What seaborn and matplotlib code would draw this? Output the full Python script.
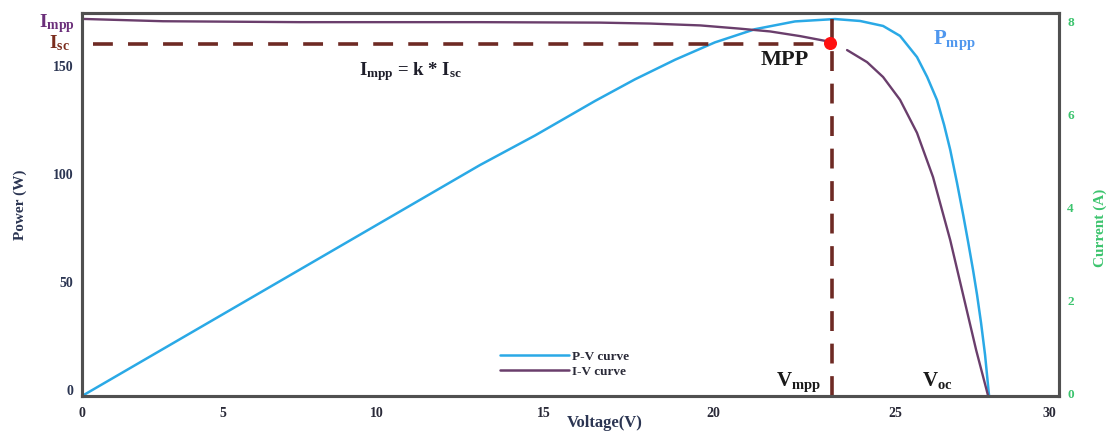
import numpy as np
import matplotlib
matplotlib.use("Agg")
import matplotlib.pyplot as plt
import matplotlib.transforms as mtransforms
from matplotlib.lines import Line2D
import seaborn as sns

# ---------------- data ----------------
pv_voltage = [0, 13.08, 14.73, 16.51, 17.69, 18.88, 20.05, 21.15, 22.25, 23.35,
              24.04, 24.67, 25.16, 25.71, 26.04, 26.36, 26.59, 26.79, 27.01,
              27.21, 27.37, 27.53, 27.66, 27.79, 27.92, 28.05]
pv_power = [0, 106.9, 120.6, 136.6, 146.6, 155.7, 163.7, 169.8, 173.4, 174.5,
            173.6, 171.3, 166.7, 156.9, 147.7, 137.0, 125.5, 113.9, 98.6,
            83.8, 71.3, 58.3, 46.8, 33.8, 19.0, 0]

iv_voltage_a = [0, 2.87, 7.5, 13.08, 16.66, 18.14, 19.62, 20.74, 21.57, 22.39, 23.13]
iv_current_a = [8.11, 8.06, 8.04, 8.04, 8.03, 8.01, 7.97, 7.90, 7.84, 7.74, 7.63]
iv_voltage_b = [23.68, 24.23, 24.67, 25.16, 25.71, 26.23, 26.79, 27.21, 27.63, 28.02]
iv_current_b = [7.44, 7.18, 6.86, 6.37, 5.66, 4.71, 3.35, 2.17, 0.99, 0]

mpp_voltage = 23.2
mpp_current = 7.6
vmpp_line = 23.27
isc_level = 7.57
dash_start = 0.39
dash_top = 8.1

x_ticks = [0, 5, 10, 15, 20, 25, 30]
power_ticks = [0, 50, 100, 150]
current_ticks = [0, 2, 4, 6, 8]

# axis geometry of the (non-uniform) voltage axis in the reference
x_knots = [0, 5, 10, 15, 20, 25, 30, 35]
x_knot_px = [82, 223, 377, 544, 713, 895, 1049, 1203]

# ---------------- style ----------------
sns.set_theme(style="white")
plt.rcParams["font.family"] = ["Liberation Serif", "DejaVu Serif"]
plt.rcParams["font.weight"] = "bold"
plt.rcParams["mathtext.fontset"] = "custom"
plt.rcParams["mathtext.rm"] = "Liberation Serif:bold"
plt.rcParams["mathtext.bf"] = "Liberation Serif:bold"
plt.rcParams["mathtext.it"] = "Liberation Serif:bold"

BLUE = "#2aa9e6"
PURPLE = "#6a3e6c"
DASH = "#6e2a24"
GREEN = "#3cc46e"
NAVY = "#2b3552"
SPINE = "#505050"

fig = plt.figure(figsize=(11.11, 4.32), dpi=100)
ax = fig.add_axes([82 / 1111, 1 - 396 / 432, 977 / 1111, 383 / 432])
ax2 = ax.twinx()

sns.lineplot(x=pv_voltage, y=pv_power, ax=ax, color=BLUE, lw=1.8,
             sort=False, estimator=None)
sns.lineplot(x=iv_voltage_a, y=iv_current_a, ax=ax2, color=PURPLE, lw=1.7,
             sort=False, estimator=None)
sns.lineplot(x=iv_voltage_b, y=iv_current_b, ax=ax2, color=PURPLE, lw=1.7,
             sort=False, estimator=None)

# MPP construction lines
ax2.hlines(isc_level, dash_start, mpp_voltage, colors=DASH, lw=2.6,
           linestyles=(0, (5.5, 4.2)))
ax2.vlines(vmpp_line, 0, dash_top, colors=DASH, lw=2.6,
           linestyles=(0, (5.5, 3.5)))
ax2.scatter([mpp_voltage], [mpp_current], s=70, color="#ff1010", zorder=5)

# scales
fwd = lambda v: np.interp(v, x_knots, x_knot_px)
inv = lambda p: np.interp(p, x_knot_px, x_knots)
for a in (ax, ax2):
    a.set_xscale("function", functions=(fwd, inv))
ax.set_xlim(0, 30.32)
ax.set_ylim(0, 177.3)
ax2.set_ylim(0, 8.237)

ax.set_xticks(x_ticks)
ax.set_xticklabels([str(t) for t in x_ticks], fontsize=10, fontweight="bold",
                   color="#2a2a38")
ax.set_yticks(power_ticks)
ax.set_yticklabels([str(t) for t in power_ticks], fontsize=10, fontweight="bold",
                   color=NAVY)
ax2.set_yticks(current_ticks)
ax2.set_yticklabels([str(t) for t in current_ticks], fontsize=9.5,
                    fontweight="bold", color=GREEN)
ax.tick_params(axis="both", length=0, pad=6)
ax2.tick_params(axis="y", length=0, pad=6)
ax.tick_params(axis="x", pad=8)

up6 = mtransforms.ScaledTranslation(0, 6 / 100, fig.dpi_scale_trans)
up4 = mtransforms.ScaledTranslation(0, 3 / 100, fig.dpi_scale_trans)
for lab in ax.get_yticklabels():
    lab.set_transform(lab.get_transform() + up6)
for lab in ax2.get_yticklabels():
    lab.set_transform(lab.get_transform() + up4)

for a in (ax, ax2):
    for s in a.spines.values():
        s.set_color(SPINE)
        s.set_linewidth(2.2)

ax.set_ylabel("Power (W)", fontsize=11, fontweight="bold", color=NAVY)
ax.yaxis.set_label_coords(-0.056, 0.5)
ax2.set_ylabel("Current (A)", fontsize=11, fontweight="bold", color=GREEN,
               rotation=90)
ax2.yaxis.set_label_coords(1.035, 0.44)
ax.set_xlabel("Voltage(V)", fontsize=12, fontweight="bold", color=NAVY)
ax.xaxis.set_label_coords(0.535, -0.05)

# left-side labels for the current levels
blend = mtransforms.blended_transform_factory(ax2.transAxes, ax2.transData)
ax2.text(-0.007, 8.02, r"$\mathbf{I_{mpp}}$", transform=blend, ha="right",
         va="center", fontsize=14, color="#6b2f7a", clip_on=False)
ax2.text(-0.012, 7.59, r"$\mathbf{I_{sc}}$", transform=blend, ha="right",
         va="center", fontsize=14, color="#7b2d1e", clip_on=False)

# annotations
ax2.text(11.0, 6.97, r"$\mathbf{I_{mpp}}$ = k * $\mathbf{I_{sc}}$", ha="center",
         va="center", fontsize=13.5, color="#1e1e2a")
ax2.text(21.98, 7.23, "MPP", ha="center", va="center", fontsize=16,
         color="#1a1a1a")
ax2.text(26.92, 7.66, r"$\mathbf{P_{mpp}}$", ha="center", va="center",
         fontsize=15, color="#4f97ee")
ax2.text(22.34, 0.30, r"$\mathbf{V_{mpp}}$", ha="center", va="center",
         fontsize=15, color="#1a1a1a")
ax2.text(26.36, 0.34, r"$\mathbf{V_{oc}}$", ha="center", va="center",
         fontsize=15, color="#1a1a1a")

handles = [Line2D([], [], color=BLUE, lw=1.8), Line2D([], [], color=PURPLE, lw=1.8)]
leg = ax2.legend(handles, ["P-V curve", "I-V curve"], loc="upper left",
                 bbox_to_anchor=(0.428, 0.118), frameon=False, fontsize=9.5,
                 handlelength=5.2, handletextpad=0.25, labelspacing=0.2,
                 borderpad=0, borderaxespad=0)
for t in leg.get_texts():
    t.set_color("#2a2a38")
    t.set_fontweight("bold")

fig.savefig("out.png", dpi=100)
